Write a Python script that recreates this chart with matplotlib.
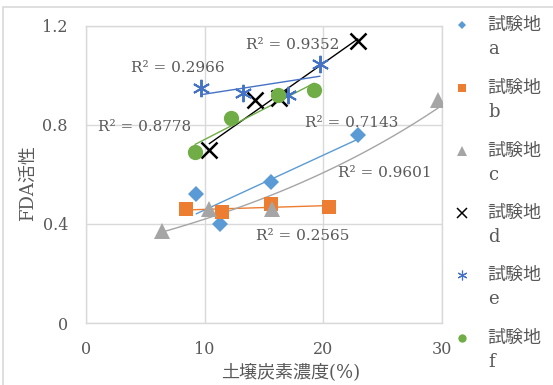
import numpy as np
import matplotlib
matplotlib.use("Agg")
import matplotlib.pyplot as plt
from matplotlib.lines import Line2D
from matplotlib.patches import Rectangle

plt.rcParams['font.family'] = ['DejaVu Serif', 'Noto Sans CJK JP']

# Soil carbon concentration (%) and FDA activity per test site
site_names = ["a", "b", "c", "d", "e", "f"]
x_a = [9.3, 11.3, 15.6, 22.9]
y_a = [0.52, 0.40, 0.57, 0.76]
x_b = [8.4, 11.5, 15.6, 20.5]
y_b = [0.46, 0.45, 0.48, 0.47]
x_c = [6.4, 10.4, 15.7, 29.7]
y_c = [0.37, 0.46, 0.46, 0.90]
x_d = [10.4, 14.2, 16.3, 22.9]
y_d = [0.70, 0.90, 0.91, 1.14]
x_e = [9.7, 13.2, 17.0, 19.7]
y_e = [0.95, 0.93, 0.92, 1.045]
x_f = [9.2, 12.2, 16.2, 19.2]
y_f = [0.69, 0.83, 0.92, 0.94]

r2_labels = ["R² = 0.7143", "R² = 0.2565", "R² = 0.9601",
             "R² = 0.9352", "R² = 0.2966", "R² = 0.8778"]
r2_pos = [(22.4, 0.809), (18.3, 0.352), (25.2, 0.607),
          (17.4, 1.123), (7.7, 1.029), (4.9, 0.793)]

x_ticks = [0, 10, 20, 30]
y_ticks = [0, 0.4, 0.8, 1.2]
y_ticklabels = ["0", "0.4", "0.8", "1.2"]

series = [
    dict(x=x_a, y=y_a, color="#5B9BD5", marker="D", ms=8.3, mew=0, fit="lin", lms=4.2),
    dict(x=x_b, y=y_b, color="#ED7D31", marker="s", ms=10.5, mew=0, fit="lin", lms=5.8),
    dict(x=x_c, y=y_c, color="#A5A5A5", marker="^", ms=12, mew=0, fit="exp", lms=6.5),
    dict(x=x_d, y=y_d, color="#000000", marker="x", ms=11.5, mew=1.8, fit="lin", lms=6.5),
    dict(x=x_e, y=y_e, color="#4472C4", marker=(6, 2, 0), ms=12.5, mew=1.4, fit="lin", lms=7),
    dict(x=x_f, y=y_f, color="#70AD47", marker="o", ms=11, mew=0, fit="lin", lms=6),
]

text_color = "#595959"
grid_color = "#D9D9D9"

W, H = 553, 385
fig = plt.figure(figsize=(W / 100, H / 100), dpi=100)
ax = fig.add_axes([86 / W, 1 - 323 / H, 356 / W, 297 / H])

# outer chart frame (left and top edges visible)
fig.add_artist(Rectangle((3 / W, -0.2), 1.5, 0.2 + 1 - 7 / H,
                         transform=fig.transFigure, fill=False,
                         edgecolor=grid_color, lw=1.2))

for s in series:
    x = np.array(s["x"], dtype=float)
    y = np.array(s["y"], dtype=float)
    xs = np.linspace(x.min(), x.max(), 100)
    if s["fit"] == "exp":
        k, b = np.polyfit(x, np.log(y), 1)
        ys = np.exp(b + k * xs)
    else:
        k, b = np.polyfit(x, y, 1)
        ys = b + k * xs
    ax.plot(xs, ys, color=s["color"], lw=1.0, zorder=3)
    ax.plot(x, y, linestyle="none", marker=s["marker"], ms=s["ms"],
            color=s["color"], mec=s["color"], mew=s["mew"], zorder=4)

for lab, (tx, ty) in zip(r2_labels, r2_pos):
    ax.text(tx, ty, lab, ha="center", va="center", fontsize=11,
            color=text_color, zorder=5)

ax.set_xlim(0, 30)
ax.set_ylim(0, 1.2)
ax.set_xticks(x_ticks)
ax.set_yticks(y_ticks)
ax.set_yticklabels(y_ticklabels)
ax.tick_params(length=0, labelsize=11.5, labelcolor=text_color, pad=13)
ax.grid(True, color=grid_color, lw=1)
ax.set_axisbelow(True)
for sp in ax.spines.values():
    sp.set_color(grid_color)
    sp.set_linewidth(1)

ax.set_xlabel("土壌炭素濃度(%)", fontsize=13, color=text_color)
ax.xaxis.set_label_coords((291 - 86) / 356, (323 - 372) / 297)
ax.xaxis.label.set_va("center")
ax.set_ylabel("FDA活性", fontsize=13, color=text_color)
ax.yaxis.set_label_coords((28 - 86) / 356, (323 - 183) / 297)
ax.yaxis.label.set_va("center")

# legend, one two-line entry per site
leg_first = [25, 88, 151, 213, 275, 338]
for s, name, yp in zip(series, site_names, leg_first):
    fy = 1 - yp / H
    fig.add_artist(Line2D([461.7 / W], [fy], transform=fig.transFigure,
                          marker=s["marker"], ms=s["lms"], color=s["color"],
                          mec=s["color"], mew=s["mew"] * 0.6 if s["mew"] else 0,
                          linestyle="none"))
    fig.text(487 / W, fy, "試験地", ha="left", va="center",
             fontsize=13, color=text_color)
    fig.text(488 / W, 1 - (yp + 24) / H, name, ha="left", va="center",
             fontsize=13, color=text_color)

fig.savefig("out.png", dpi=100)
